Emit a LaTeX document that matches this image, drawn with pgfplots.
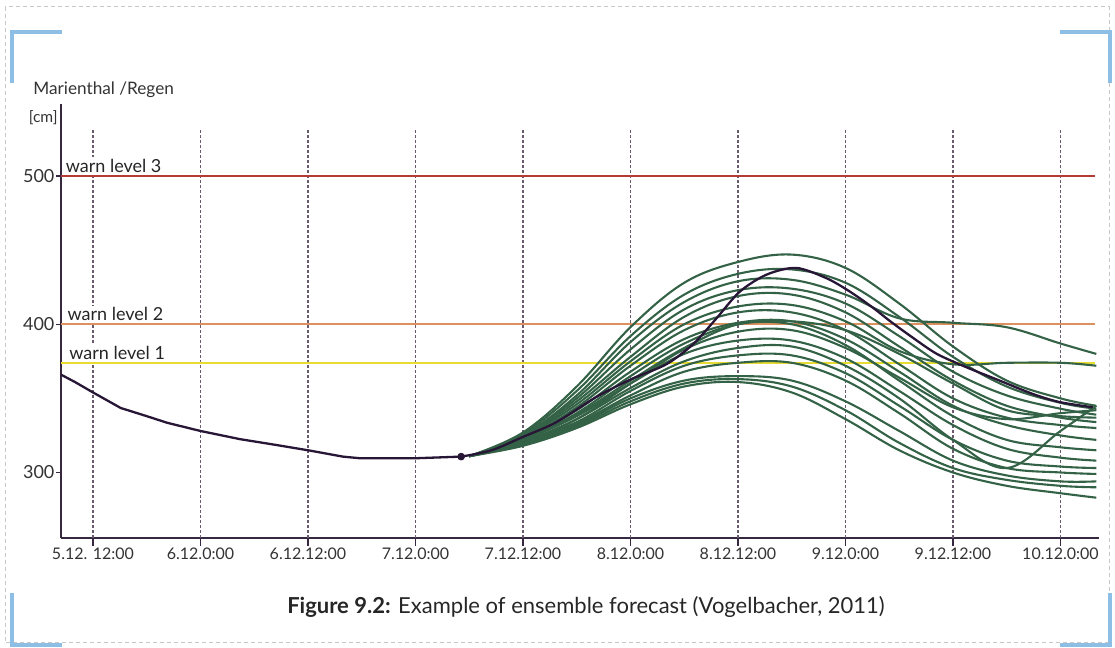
\documentclass[border=0pt]{standalone}
\usepackage{fontspec}
\setmainfont{Lato}
\usepackage{pgfplots}
\usepackage{pgfplotstable}
\pgfplotsset{compat=1.18}
\definecolor{bracket}{RGB}{140,190,230}
\definecolor{frame}{RGB}{200,200,200}
\definecolor{axisc}{RGB}{55,40,65}
\definecolor{gridc}{RGB}{105,90,110}
\definecolor{wred}{RGB}{180,60,55}
\definecolor{worange}{RGB}{220,145,95}
\definecolor{wyellow}{RGB}{232,220,50}
\definecolor{ens}{RGB}{52,98,70}
\definecolor{obs}{RGB}{40,22,55}

\pgfplotstableread{
h   g1  g2  g3  g4  g5  g6  g7  g8  g9  g10 g11 g12 g13 g14 g15 g16 g17 g18
54  311 311 311 311 311 311 311 311 311 311 311 311 311 311 311 311 311 311
60  327 326 325 325 324 324 323 323 322 322 321 321 320 320 319 318 320 322
66  358 355 352 350 348 346 344 342 340 338 336 334 333 332 331 330 336 339
72  398 392 388 383 378 375 372 368 365 360 357 355 352 350 348 346 360 362
78  428 420 415 410 405 400 396 390 387 380 375 372 368 362 360 358 383 384
84  442 434 429 423 419 412 408 401 400 389 384 379 374 365 363 361 395 400
90  447 437 430 424 420 413 408 402 400 389 385 379 374 362 358 354 396 402
96  438 428 420 414 408 402 396 390 386 377 372 367 362 348 342 336 384 396
102 414 405 404 392 385 382 373 368 362 355 350 345 340 328 320 315 364 380
108 385 378 401 368 362 373 350 345 338 332 322 322 316 308 303 300 344 360
114 362 358 398 352 345 374 337 332 322 316 303 308 303 298 295 291 336 342
120 350 347 387 343 337 374 332 325 317 310 328 304 300 294 291 286 340 338
124 345 343 380 339 334 372 330 322 315 308 345 303 299 294 290 283 342 337
}\ens

\begin{document}
\begin{tikzpicture}[x=0.5pt,y=0.5pt]
\useasboundingbox (0,0) rectangle (1115,648);
% frame
\draw[frame, line width=0.5pt, dash pattern=on 2pt off 1.5pt] (5,641) rectangle (1109,5);
% blue corner brackets
\draw[bracket, line width=2pt] (12,565) -- (12,616) -- (62,616);
\draw[bracket, line width=2pt] (1060,616) -- (1110,616) -- (1110,565);
\draw[bracket, line width=2pt] (12,55) -- (12,3) -- (62,3);
\draw[bracket, line width=2pt] (1060,3) -- (1110,3) -- (1110,55);

\node[anchor=west, inner sep=0, font=\fontsize{8.6}{10}\selectfont, text=black!80] at (33,558) {Marienthal /Regen};
\node[anchor=east, inner sep=0, font=\fontsize{7.8}{9}\selectfont, text=black!80] at (58,530) {[cm]};

\coordinate (A) at (61,110);
\begin{axis}[
  at={(A)}, anchor=south west,
  scale only axis, width=519pt, height=217pt,
  xmin=8.43, xmax=124.3, ymin=255.8, ymax=548.6,
  axis x line*=bottom, axis y line*=left,
  axis line style={axisc, line width=0.9pt},
  x axis line style={line width=0.7pt},
  xtick={12,24,...,120},
  xticklabels={5.12. 12:00,6.12.0:00,6.12.12:00,7.12.0:00,7.12.12:00,8.12.0:00,8.12.12:00,9.12.0:00,9.12.12:00,10.12.0:00},
  ytick={300,400,500},
  /pgf/number format/assume math mode=true,
  xticklabel style={font=\fontsize{8}{9}\selectfont, text=black!80, yshift=3pt},
  yticklabel style={font=\fontsize{9}{10}\selectfont, text=black!80, xshift=4.5pt},
  xtick style={axisc, line width=0.6pt},
  ytick style={axisc, line width=0.6pt},
  x tick style={/pgfplots/major tick length=4pt},
  y tick style={/pgfplots/major tick length=2.5pt},
  tick align=outside,
  clip=false,
]
\pgfplotsinvokeforeach{12,24,...,120}{
  \draw[gridc, line width=0.65pt, dash pattern=on 1.5pt off 1pt] (axis cs:#1,255.8) -- (axis cs:#1,531);
}
\addplot[wred, line width=1.3pt] coordinates {(8.43,500) (123.8,500)};
\addplot[worange, line width=1.1pt] coordinates {(8.43,400) (123.8,400)};
\addplot[wyellow, line width=1.1pt] coordinates {(8.43,374) (123.8,374)};
\node[anchor=south west, inner sep=1pt, fill=white, font=\fontsize{9}{10}\selectfont, text=black!85] at (axis cs:8.7,500.5) {warn level 3};
\node[anchor=south west, inner sep=1pt, fill=white, font=\fontsize{9}{10}\selectfont, text=black!85] at (axis cs:8.9,400.5) {warn level 2};
\node[anchor=south west, inner sep=1pt, fill=white, font=\fontsize{9}{10}\selectfont, text=black!85] at (axis cs:9.1,374.5) {warn level 1};

\foreach \g in {g1,g2,g3,g4,g5,g6,g7,g8,g9,g10,g11,g12,g13,g14,g15,g16,g17,g18}{
  \addplot[ens, line width=1.05pt, smooth, tension=0.6] table[x=h, y=\g] {\ens};
}

\addplot[obs, line width=1.15pt] coordinates {
(8.43,366) (10,361) (12,354) (15.1,343.5) (18,338) (20.3,333.5) (24,328) (28.4,322.5)
(32,319) (36,315) (39.9,310.7) (41.8,309.6) (48,309.6) (53.1,310.7)};
\addplot[obs, line width=1.15pt, smooth, tension=0.5] coordinates {
(53.1,310.7) (56.5,315) (60,324) (63.75,334) (68.2,351) (72.1,363) (76,373) (79,386.6)
(81.6,404) (84.2,422) (87.2,433.5) (90.5,438) (93.9,431) (96.5,422) (99.1,411)
(101,402) (103.5,391) (106.2,380) (109.5,371) (113.2,362) (116.9,353) (119.9,347.5) (123.6,344)};
\addplot[obs, only marks, mark=*, mark size=1.7pt] coordinates {(53.1,310.7)};
\end{axis}

\node[font=\fontsize{11}{13}\selectfont, text=black!85] at (586,41) {\textbf{Figure 9.2:} Example of ensemble forecast (Vogelbacher, 2011)};
\end{tikzpicture}
\end{document}
